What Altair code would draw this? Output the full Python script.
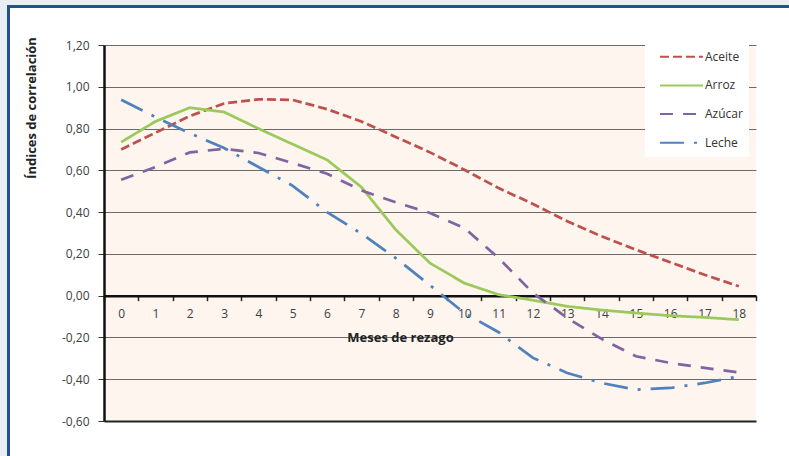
import altair as alt
import pandas as pd

# ---- data ----
meses = list(range(19))
series = ["Aceite", "Arroz", "Azúcar", "Leche"]
aceite = [0.70, 0.78, 0.86, 0.92, 0.94, 0.937, 0.893, 0.834, 0.76, 0.686,
          0.603, 0.515, 0.439, 0.356, 0.284, 0.22, 0.16, 0.10, 0.045]
arroz = [0.735, 0.834, 0.90, 0.879, 0.80, 0.725, 0.65, 0.52, 0.316, 0.156,
         0.06, 0.005, -0.022, -0.051, -0.069, -0.083, -0.096, -0.104, -0.115]
azucar = [0.555, 0.616, 0.686, 0.703, 0.683, 0.635, 0.584, 0.504, 0.447, 0.396,
          0.324, 0.18, 0.013, -0.107, -0.207, -0.29, -0.322, -0.346, -0.367]
leche = [0.938, 0.855, 0.778, 0.707, 0.616, 0.526, 0.40, 0.297, 0.18, 0.05,
         -0.083, -0.175, -0.298, -0.37, -0.418, -0.45, -0.442, -0.418, -0.386]
y_ticks = [-0.6, -0.4, -0.2, 0.0, 0.2, 0.4, 0.6, 0.8, 1.0, 1.2]

colors = ["#C0504D", "#9BC95B", "#8064A2", "#4F81BD"]
dashes = [[9, 4], [1, 0], [13, 10], [24, 10, 3, 10]]

rows = []
for name, vals in zip(series, [aceite, arroz, azucar, leche]):
    for m, v in zip(meses, vals):
        rows.append({"mes": m, "valor": v, "serie": name})
df = pd.DataFrame(rows)

W, H = 652, 376
PL, PT, PR, PB = 104, 45, 33, 35
FONT = "Open Sans"

one = alt.Data(values=[{}])

# ---- decorative frame (outside the plot area) ----
strip_top = alt.Chart(one).mark_rect(color="#E9EEF6").encode(
    x=alt.value(-PL), x2=alt.value(W + PR), y=alt.value(-PT), y2=alt.value(-PT + 5))
strip_left = alt.Chart(one).mark_rect(color="#E9EEF6").encode(
    x=alt.value(-PL), x2=alt.value(-PL + 7), y=alt.value(-PT), y2=alt.value(H + PB))
border_top = alt.Chart(one).mark_rule(color="#22518C", strokeWidth=3).encode(
    x=alt.value(-PL + 7), x2=alt.value(W + PR + 5), y=alt.value(-PT + 6.5))
border_left = alt.Chart(one).mark_rule(color="#22518C", strokeWidth=3).encode(
    x=alt.value(-PL + 8.5), y=alt.value(-PT + 5), y2=alt.value(H + PB + 5))

grid_cond = {"condition": {"test": "datum.value < -0.59", "value": "#222222"}, "value": "#6a6a6a"}
gridw_cond = {"condition": {"test": "datum.value < -0.59", "value": 2}, "value": 1}

lines = alt.Chart(df).mark_line(strokeWidth=2.75).encode(
    x=alt.X(
        "mes:O",
        bandPosition=0.5,
        scale=alt.Scale(type="band", paddingInner=0, paddingOuter=0),
        axis=alt.Axis(
            orient="bottom", offset=-H / 3, tickBand="extent", labelAngle=0,
            domainColor="#111111", domainWidth=2.5, tickColor="#222222", tickWidth=1.5,
            tickSize=5, labelPadding=8, labelFont=FONT, labelFontSize=12,
            labelColor="#404040", grid=False,
            title="Meses de rezago", titleFont=FONT, titleFontSize=13,
            titleFontWeight="bold", titleColor="#222222", titleX=296, titleY=42,
            titleAlign="center", titleBaseline="middle",
        ),
    ),
    y=alt.Y(
        "valor:Q",
        scale=alt.Scale(domain=[-0.6, 1.2], nice=False, zero=False),
        axis=alt.Axis(
            values=y_ticks,
            labelExpr="replace(replace(format(datum.value, '.2f'), '.', ','), '\u2212', '-')",
            labelFont=FONT, labelFontSize=12, labelColor="#404040", labelPadding=9,
            domainColor="#111111", domainWidth=2.5, tickColor="#333333", tickSize=6,
            grid=True, gridColor=grid_cond, gridWidth=gridw_cond,
            title="Índices de correlación", titleFont=FONT, titleFontSize=13,
            titleFontWeight="bold", titleColor="#222222", titleX=-73, titleY=62.5,
            titleAlign="center", titleBaseline="middle",
        ),
    ),
    color=alt.Color(
        "serie:N",
        scale=alt.Scale(domain=series, range=colors),
        legend=alt.Legend(title=None),
    ),
    strokeDash=alt.StrokeDash(
        "serie:N",
        scale=alt.Scale(domain=series, range=dashes),
        legend=alt.Legend(title=None),
    ),
    order="mes:O",
)

chart = alt.layer(strip_top, strip_left, border_top, border_left, lines).properties(
    width=W, height=H,
    autosize=alt.AutoSizeParams(type="none"),
    padding={"left": PL, "top": PT, "right": PR, "bottom": PB},
    background="#FFFFFF",
).configure_view(
    fill="#FDF5EE", strokeWidth=0,
).configure_legend(
    orient="none", legendX=541, legendY=-1.3, direction="vertical",
    fillColor="#FFFFFF", padding=6, symbolType="stroke", symbolSize=1849,
    symbolStrokeWidth=2, clipHeight=14, rowPadding=14.7, symbolOffset=8,
    labelOffset=1, labelFont=FONT, labelFontSize=12, labelColor="#333333",
)

chart.save("out.html", embed_options={"renderer": "svg", "actions": False})
